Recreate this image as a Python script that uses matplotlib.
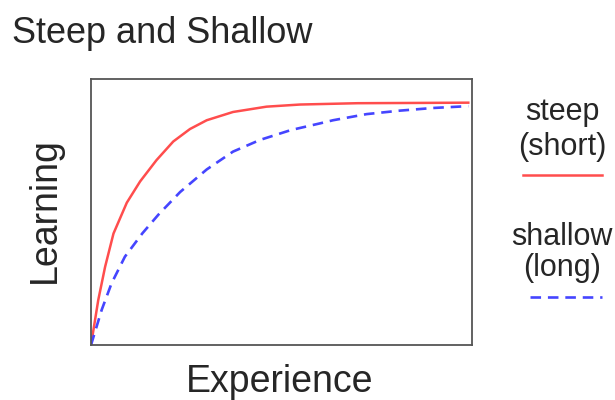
import numpy as np
import matplotlib.pyplot as plt

plt.rcParams['font.family'] = ['Liberation Sans', 'DejaVu Sans']

# values (both axes scaled 0..1 across the box)
steep_x = [0, 0.019, 0.037, 0.059, 0.094, 0.129, 0.172, 0.216, 0.260, 0.304,
           0.373, 0.461, 0.549, 0.70, 0.85, 0.991]
steep_y = [0, 0.169, 0.294, 0.419, 0.535, 0.615, 0.695, 0.765, 0.812, 0.845,
           0.876, 0.896, 0.904, 0.909, 0.910, 0.911]
shallow_x = [0, 0.028, 0.054, 0.089, 0.135, 0.177, 0.234, 0.304, 0.373, 0.444,
             0.525, 0.601, 0.636, 0.724, 0.811, 0.898, 0.991]
shallow_y = [0, 0.132, 0.232, 0.332, 0.420, 0.490, 0.575, 0.660, 0.727, 0.771,
             0.808, 0.833, 0.845, 0.868, 0.881, 0.891, 0.898]

red = '#ff4d4d'
blue = '#4545ff'
txt = '#262626'
dash = (0, (4, 2.6))

fig = plt.figure(figsize=(6.15, 4.0), dpi=100)
ax = fig.add_axes([0.148, 0.1375, 0.619, 0.665])
ax.plot(steep_x, steep_y, color=red, lw=1.8)
ax.plot(shallow_x, shallow_y, color=blue, lw=1.9, ls=dash)
ax.set_xlim(0, 1)
ax.set_ylim(0, 1)
ax.set_xticks([])
ax.set_yticks([])
for s in ax.spines.values():
    s.set_color('#555555')
    s.set_linewidth(1.3)

fig.text(0.02, 0.8925, 'Steep and Shallow', fontsize=26, va='baseline', ha='left', color=txt)
fig.text(0.455, 0.02, 'Experience', fontsize=27, va='baseline', ha='center', color=txt)
fig.text(0.073, 0.475, 'Learning', fontsize=27, va='center', ha='center', rotation=90, color=txt)

# legend drawn by hand on the right
fig.text(0.914, 0.70, 'steep', fontsize=22, ha='center', va='baseline', color=txt)
fig.text(0.914, 0.6125, '(short)', fontsize=22, ha='center', va='baseline', color=txt)
fig.add_artist(plt.Line2D([0.850, 0.979], [0.5625, 0.5625], color=red, lw=1.8))
fig.text(0.914, 0.3875, 'shallow', fontsize=22, ha='center', va='baseline', color=txt)
fig.text(0.914, 0.31, '(long)', fontsize=22, ha='center', va='baseline', color=txt)
fig.add_artist(plt.Line2D([0.862, 0.979], [0.2575, 0.2575], color=blue, lw=1.9, ls=dash))

fig.savefig('out.png')
